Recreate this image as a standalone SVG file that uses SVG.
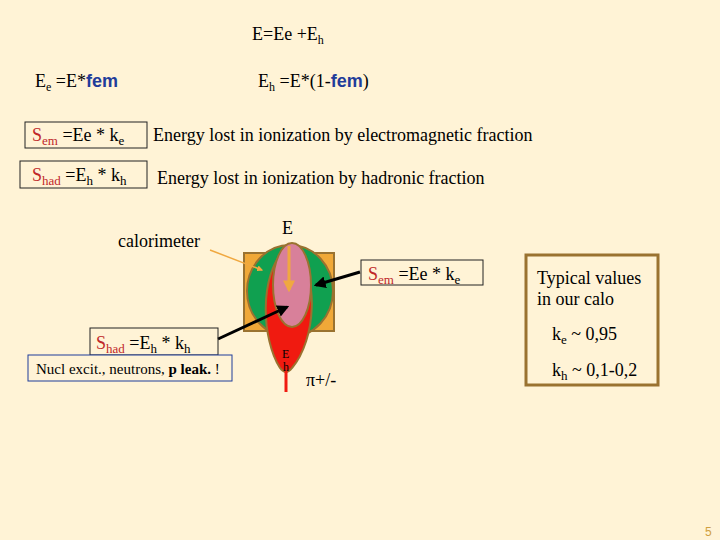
<svg xmlns="http://www.w3.org/2000/svg" width="720" height="540" viewBox="0 0 720 540">
<defs>
<marker id="ab" viewBox="0 0 10 10" refX="8" refY="5" markerWidth="4" markerHeight="4" orient="auto"><path d="M0,0 L10,5 L0,10 z" fill="#000"/></marker>
<marker id="ao" viewBox="0 0 10 10" refX="8" refY="5" markerWidth="4" markerHeight="4" orient="auto"><path d="M0,0 L10,5 L0,10 z" fill="#F0A840"/></marker>
</defs>
<style>
text{font-family:"Liberation Serif","DejaVu Serif",serif;font-size:18px;fill:#000}
.r{fill:#C0282A}.b{fill:#1F3C9A;font-weight:bold;font-family:"Liberation Sans",sans-serif}
.box{fill:none;stroke:#222;stroke-width:1}
.sm{font-size:12px}
.nu{font-size:15px}
.pg{font-family:"Liberation Sans",sans-serif;font-size:12px;fill:#D0A040}
</style>
<rect width="720" height="540" fill="#FFF3D6"/>
<text x="252" y="40">E=Ee +E<tspan font-size="12" dy="4">h</tspan></text>
<text x="35" y="87">E<tspan font-size="12" dy="4">e</tspan><tspan dy="-4"> =E*</tspan><tspan class="b">fem</tspan></text>
<text x="258" y="87">E<tspan font-size="12" dy="4">h</tspan><tspan dy="-4"> =E*(1-</tspan><tspan class="b">fem</tspan>)</text>
<g id="sem1"><rect class="box" x="25" y="122" width="122" height="26"/>
<text x="32" y="141"><tspan class="r">S</tspan><tspan class="r" font-size="13" dy="4">em</tspan><tspan dy="-4"> =Ee * k</tspan><tspan font-size="13" dy="4">e</tspan></text></g>
<text x="153" y="141">Energy lost in ionization by electromagnetic  fraction</text>
<g id="shad1"><rect class="box" x="20" y="161" width="127" height="27"/>
<text x="32" y="181"><tspan class="r">S</tspan><tspan class="r" font-size="13" dy="4">had</tspan><tspan dy="-4"> =E</tspan><tspan font-size="13" dy="4">h</tspan><tspan dy="-4"> * k</tspan><tspan font-size="13" dy="4">h</tspan></text></g>
<text x="157" y="184">Energy lost in ionization by hadronic  fraction</text>
<text x="118" y="247">calorimeter</text>
<text x="282" y="234">E</text>
<g id="calo">
<rect x="244" y="253" width="90" height="78" fill="#F0A838" stroke="#9A7230" stroke-width="2"/>
<ellipse cx="290" cy="291" rx="43" ry="46" fill="#10A050" stroke="#9A7230" stroke-width="2"/>
<path d="M286,248 C258,275 262,340 280,368 Q286,376 292,368 C316,340 320,275 294,248 Z" fill="#F01A10" stroke="#9A7230" stroke-width="2"/>
<line x1="286" y1="360" x2="286" y2="392" stroke="#F01A10" stroke-width="3"/>
<ellipse cx="292" cy="285" rx="19" ry="42" fill="#D8809A" stroke="#9A7230" stroke-width="2"/>
<text x="282" y="358" class="sm">E</text><text x="283" y="371" class="sm">h</text>
</g>
<text x="306" y="386">π+/-</text>
<g id="connectors">
<line x1="289" y1="246" x2="289" y2="290" stroke="#F0A840" stroke-width="3" marker-end="url(#ao)"/>
<line x1="210" y1="250" x2="262" y2="270" stroke="#F0A840" stroke-width="1.5" marker-end="url(#ao)"/>
<line x1="360" y1="272" x2="316" y2="285" stroke="#000" stroke-width="3" marker-end="url(#ab)"/>
<line x1="218" y1="339" x2="287" y2="307" stroke="#000" stroke-width="3" marker-end="url(#ab)"/>
</g>
<g id="sem2"><rect class="box" x="361" y="260" width="122" height="25" fill="#FFF3D6"/>
<text x="368" y="280"><tspan class="r">S</tspan><tspan class="r" font-size="13" dy="4">em</tspan><tspan dy="-4"> =Ee * k</tspan><tspan font-size="13" dy="4">e</tspan></text></g>
<g id="shad2"><rect class="box" x="90" y="328" width="128" height="27"/>
<text x="96" y="349"><tspan class="r">S</tspan><tspan class="r" font-size="13" dy="4">had</tspan><tspan dy="-4"> =E</tspan><tspan font-size="13" dy="4">h</tspan><tspan dy="-4"> * k</tspan><tspan font-size="13" dy="4">h</tspan></text></g>
<g id="nucl"><rect x="28" y="355" width="204" height="26" fill="#FFF3D6" stroke="#1F3C9A" stroke-width="1"/>
<text x="36" y="374" class="nu">Nucl excit., neutrons, <tspan font-weight="bold">p leak.</tspan> !</text></g>
<g id="typ"><rect x="526" y="255" width="132" height="130" fill="none" stroke="#9A7230" stroke-width="3"/>
<text x="537" y="284">Typical values</text><text x="537" y="305">in our calo</text>
<text x="552" y="340">k<tspan font-size="13" dy="4">e</tspan><tspan dy="-4"> ~ 0,95</tspan></text>
<text x="552" y="376">k<tspan font-size="13" dy="4">h</tspan><tspan dy="-4"> ~ 0,1-0,2</tspan></text></g>
<text x="705" y="536" class="pg">5</text>
</svg>
